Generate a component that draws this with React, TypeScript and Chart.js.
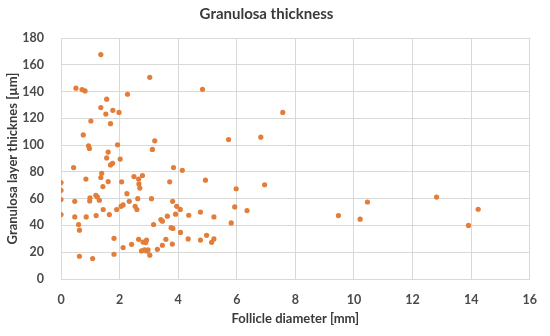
import React, { useEffect, useRef } from "react";
import { Chart, registerables } from "chart.js";

Chart.register(...registerables);

const CHART_TITLE = "Granulosa thickness";
const X_TITLE = "Follicle diameter [mm]";
const Y_TITLE = "Granulosa layer thicknes [µm]";

const follicleDiameter: number[] = [
  1.36, 3.03, 0.51, 0.72, 0.82, 2.27, 1.56, 1.36, 1.77, 1.53,
  1.98, 1.02, 1.69, 0.76, 3.2, 0.94, 0.97, 1.93, 3.12, 1.61,
  1.56, 2.02, 1.76, 1.69, 0.43, 3.84, 1.39, 0, 0.85, 1.36,
  2.49, 2.78, 2.65, 1.61, 2.07, 3.71, 1.43, 2.66, 2.69, 0,
  2.25, 1.19, 1.24, 0.99, 0.98, 1.31, 0.47, 0, 2.62, 3.09,
  2.33, 3.81, 2.12, 2.05, 2.53, 2.59, 3.95, 1.9, 1.44, 1.65,
  0, 1.2, 0.47, 0.86, 3.63, 3.41, 3.46, 3.16, 0.6, 0.63,
  3.76, 3.82, 1.81, 2.65, 2.92, 2.8, 2.89, 3.58, 2.41, 2.12,
  3.46, 3.29, 2.75, 2.85, 2.92, 2.97, 3.03, 1.81, 0.63, 1.08,
  4.14, 4.93, 6.95, 5.98, 4.07, 3.91, 4.08, 4.36, 4.76, 5.22,
  5.93, 6.35, 5.81, 4.34, 4.76, 4.97, 5.22, 5.14, 3.8, 4.83,
  5.72, 6.82, 7.57, 9.47, 10.21, 10.46, 12.82, 13.91, 14.24,
];

const granulosaThickness: number[] = [
  167.6, 150.6, 142.5, 141.5, 140.5, 138, 134.3, 128, 126, 123.2,
  124.4, 118, 116, 107.6, 103.2, 99.5, 97.5, 100.2, 96.8, 94.8,
  90.4, 89.6, 86.4, 85.2, 83.2, 83.2, 79, 72, 74.6, 75.8,
  76.5, 77.3, 74.6, 72.8, 72.6, 72.6, 69, 71, 67.9, 66.2,
  63.7, 62.5, 61.3, 60.7, 58.3, 58.8, 58, 59.3, 60, 60,
  58, 58, 55.3, 54.3, 54.3, 51.9, 54.3, 51.9, 51.9, 48.1,
  48.1, 47.4, 46.4, 46.4, 46.9, 44.4, 43.2, 40.7, 40.7, 36.5,
  38.3, 37.8, 30.4, 29.6, 29.1, 27.6, 27.2, 29.6, 25.9, 23.5,
  25.2, 22.2, 21, 21.7, 21, 21.7, 17.8, 18.5, 17, 15.3,
  81.2, 73.8, 70.4, 67.4, 52, 48.4, 34.8, 47.6, 50, 46.4,
  53.8, 51.1, 41.9, 29.9, 29.1, 32.6, 29.9, 27.4, 26.1, 141.7,
  104.1, 105.9, 124.4, 47.4, 44.7, 57.5, 61.2, 40, 52.1,
];

const X_MIN = 0;
const X_MAX = 16;
const X_STEP = 2;
const Y_MIN = 0;
const Y_MAX = 180;
const Y_STEP = 20;

export default function App() {
  const canvasRef = useRef<HTMLCanvasElement | null>(null);

  useEffect(() => {
    if (!canvasRef.current) return;
    const points = follicleDiameter.map((x, i) => ({ x, y: granulosaThickness[i] }));
    const fontFamily = "Lato, 'Open Sans', 'DejaVu Sans', sans-serif";
    const gridColor = "#d9d9d9";
    const chart = new Chart(canvasRef.current, {
      type: "scatter",
      data: {
        datasets: [
          {
            label: CHART_TITLE,
            data: points,
            backgroundColor: "#E27D3A",
            borderWidth: 0,
            pointRadius: 2.6,
          },
        ],
      },
      options: {
        animation: false,
        responsive: false,
        layout: { padding: { left: 0, right: 17, top: 0, bottom: 0 } },
        plugins: {
          legend: { display: false },
          tooltip: { enabled: false },
          title: {
            display: true,
            text: CHART_TITLE,
            color: "#3a3a3a",
            font: { family: fontFamily, size: 15, weight: "bold" },
            padding: { top: 5.5, bottom: 14.5 },
          },
        },
        scales: {
          x: {
            type: "linear",
            min: X_MIN,
            max: X_MAX,
            afterFit: (scale: any) => {
              scale.height = 57;
            },
            ticks: {
              stepSize: X_STEP,
              color: "#4a4a4a",
              padding: 13,
              font: { family: fontFamily, size: 12.5, weight: "bold" },
            },
            grid: { color: gridColor, drawTicks: false, lineWidth: 1 },
            border: { color: gridColor },
            title: {
              display: true,
              text: X_TITLE,
              color: "#3a3a3a",
              font: { family: fontFamily, size: 13, weight: "bold" },
              padding: { top: 9, bottom: 9 },
            },
          },
          y: {
            type: "linear",
            min: Y_MIN,
            max: Y_MAX,
            afterFit: (scale: any) => {
              scale.width = 61;
            },
            ticks: {
              stepSize: Y_STEP,
              color: "#4a4a4a",
              padding: 17,
              font: { family: fontFamily, size: 12.5, weight: "bold" },
            },
            grid: { color: gridColor, drawTicks: false, lineWidth: 1 },
            border: { color: gridColor },
            title: {
              display: true,
              text: Y_TITLE,
              color: "#3a3a3a",
              font: { family: fontFamily, size: 13, weight: "bold" },
              padding: { top: 5, bottom: 5 },
            },
          },
        },
      },
    });
    return () => chart.destroy();
  }, []);

  return (
    <div style={{ position: "fixed", left: 0, top: 0, width: 550, height: 336, background: "#ffffff" }}>
      <canvas ref={canvasRef} width={550} height={336} style={{ width: 550, height: 336, display: "block" }} />
    </div>
  );
}
